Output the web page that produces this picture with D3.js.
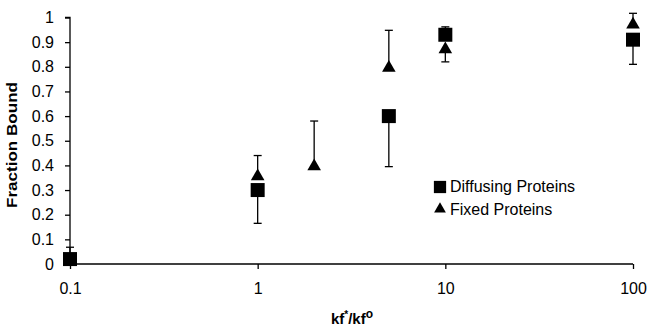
<!DOCTYPE html>
<html>
<head>
<meta charset="utf-8">
<script src="https://cdn.jsdelivr.net/npm/d3@7"></script>
<style>
  body { margin: 0; background: #fff; }
  svg { font-family: "Liberation Sans", Arial, sans-serif; }
</style>
</head>
<body>
<svg id="chart" width="647" height="331"></svg>
<script>
// kf*/kf° values and fraction bound
var diffX = [0.1, 1, 5, 10, 100];
var diffY = [0.02, 0.30, 0.60, 0.93, 0.91];
var diffErr = [0.068, 0.165, 0.395, 0.962, 0.81];   // end of the one-sided bar

var fixedX = [1, 2, 5, 10, 100];
var fixedY = [0.36, 0.40, 0.80, 0.875, 0.975];
var fixedErr = [0.44, 0.58, 0.948, 0.82, 1.017];

var xTicks = [0.1, 1, 10, 100];
var yTicks = [0, 0.1, 0.2, 0.3, 0.4, 0.5, 0.6, 0.7, 0.8, 0.9, 1];

var svg = d3.select('#chart');

var x = d3.scaleLog().domain([0.1, 100]).range([70, 633]);
var y = d3.scaleLinear().domain([0, 1]).range([264, 17.5]);

var diffData = diffX.map((d, i) => ({x: d, y: diffY[i], e: diffErr[i]}));
var fixedData = fixedX.map((d, i) => ({x: d, y: fixedY[i], e: fixedErr[i]}));

// axes
var yAxis = svg.append('g')
	.attr('transform', 'translate(70,0)')
	.call(d3.axisLeft(y).tickValues(yTicks).tickSize(5).tickPadding(11)
		.tickFormat(d => +d.toFixed(1)));

var xAxis = svg.append('g')
	.attr('transform', 'translate(0,264)')
	.call(d3.axisBottom(x).tickValues(xTicks).tickSize(5).tickPadding(14)
		.tickFormat(d => d));

[yAxis, xAxis].forEach(a => {
	a.select('.domain').attr('stroke', '#000').attr('stroke-width', 1.3);
	a.selectAll('.tick line').attr('stroke', '#000').attr('stroke-width', 1.3);
	a.selectAll('.tick text').attr('fill', '#000').style('font-size', '16px')
		.style('font-family', '"Liberation Sans", Arial, sans-serif');
});
// no outer ticks on the domain paths
yAxis.select('.domain').attr('d', 'M0,' + y(0) + 'V' + y(1) + 'h-5');
xAxis.select('.domain').attr('d', 'M' + x(0.1) + ',0H' + x(100));

// axis titles
svg.append('text')
	.attr('transform', 'translate(17,145) rotate(-90)')
	.attr('text-anchor', 'middle')
	.attr('textLength', 126)
	.attr('lengthAdjust', 'spacingAndGlyphs')
	.style('font-size', '14px')
	.style('font-weight', 'bold')
	.text('Fraction Bound');

var xt = svg.append('text')
	.attr('x', 352)
	.attr('y', 324)
	.attr('text-anchor', 'middle')
	.style('font-size', '15px')
	.style('font-weight', 'bold');
xt.append('tspan').text('kf');
xt.append('tspan').attr('dy', -6).style('font-size', '10px').text('*');
xt.append('tspan').attr('dy', 6).text('/kf');
xt.append('tspan').attr('dy', -6).style('font-size', '12px').text('o');

// error bars
function errorBars(data) {
	var g = svg.append('g').attr('stroke', '#000').attr('stroke-width', 1.3);
	g.selectAll('line.v').data(data).enter().append('line')
		.attr('x1', d => x(d.x)).attr('x2', d => x(d.x))
		.attr('y1', d => y(d.y)).attr('y2', d => y(d.e));
	g.selectAll('line.c').data(data).enter().append('line')
		.attr('x1', d => x(d.x) - 4).attr('x2', d => x(d.x) + 4)
		.attr('y1', d => y(d.e)).attr('y2', d => y(d.e));
}
errorBars(diffData);
errorBars(fixedData);

var square = d3.symbol().type(d3.symbolSquare).size(196);
var tri = d3.symbol().type(d3.symbolTriangle).size(80);

svg.selectAll('.diff')
	.data(diffData)
	.enter()
	.append('path')
		.classed('diff', true)
		.attr('d', square)
		.attr('transform', d => 'translate(' + x(d.x) + ',' + y(d.y) + ')')
		.attr('fill', '#000');

svg.selectAll('.fixed')
	.data(fixedData)
	.enter()
	.append('path')
		.classed('fixed', true)
		.attr('d', tri)
		.attr('transform', d => 'translate(' + x(d.x) + ',' + (y(d.y) + 1) + ')')
		.attr('fill', '#000');

// legend
var legend = svg.append('g').attr('transform', 'translate(440,0)');
legend.append('path').attr('d', d3.symbol().type(d3.symbolSquare).size(150))
	.attr('transform', 'translate(0,187)').attr('fill', '#000');
legend.append('path').attr('d', d3.symbol().type(d3.symbolTriangle).size(60))
	.attr('transform', 'translate(0,209)').attr('fill', '#000');
legend.append('text').attr('x', 10).attr('y', 192).style('font-size', '16px').text('Diffusing Proteins');
legend.append('text').attr('x', 10).attr('y', 215).style('font-size', '16px').text('Fixed Proteins');
</script>
</body>
</html>
